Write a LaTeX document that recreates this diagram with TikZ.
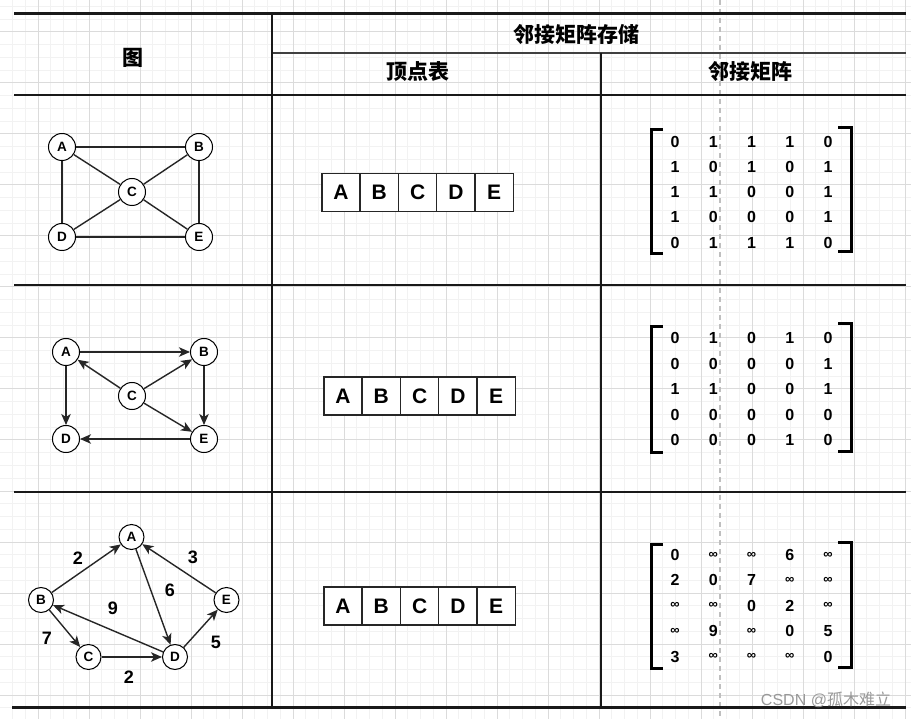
\documentclass[tikz,border=0pt]{standalone}
\usepackage{fontspec}
\setmainfont{Liberation Sans}
\newfontfamily\cjk{Noto Sans CJK SC}
\usetikzlibrary{
    positioning,
    arrows.meta
}
\newcommand{\inftxt}{{\fontsize{13}{13}\selectfont ∞}}

\begin{document}

\begin{tikzpicture}
[
    x=1pt,
    y=-1pt,
    minorgrid/.style={
        draw=black!5,
        line width=1pt
    },
    majorgrid/.style={
        draw=black!14,
        line width=1pt
    },
    rule/.style={
        draw=black!90,
        line width=1.5pt
    },
    header/.style={
        font=\cjk\bfseries\fontsize{21}{21}\selectfont
    },
    vertex/.style={
        circle,
        draw=black,
        line width=1pt,
        fill=white,
        inner sep=0pt,
        minimum size=27pt,
        font=\bfseries\fontsize{13.5}{13.5}\selectfont
    },
    edge/.style={
        draw=black!85,
        line width=1.4pt
    },
    arc/.style={
        edge,
        -{Stealth[length=11pt,width=9.5pt,inset=3pt]}
    },
    weight/.style={
        font=\bfseries\fontsize{18}{18}\selectfont
    },
    cell/.style={
        rectangle,
        draw=black!85,
        line width=1.4pt,
        fill=white,
        outer sep=0pt,
        minimum width=38.3pt,
        minimum height=38.3pt,
        font=\bfseries\fontsize{21}{21}\selectfont
    },
    entry/.style={
        inner sep=0pt,
        font=\bfseries\fontsize{16}{16}\selectfont
    },
    bracket/.style={
        draw=black,
        line width=3pt
    }
]

\useasboundingbox (0,0) rectangle (911,719);
\fill[white] (0,0) rectangle (911,719);


% =====================
% BACKGROUND GRID
% =====================

\foreach \i in {0,...,72}
    \draw[minorgrid] ({38+12.75*(\i-3)},0) -- ++(0,719);
\foreach \j in {0,...,58}
    \draw[minorgrid] (0,{32+12.75*(\j-2)}) -- ++(911,0);
\foreach \i in {0,...,18}
    \draw[majorgrid] ({38+51*(\i-1)},0) -- ++(0,719);
\foreach \j in {0,...,14}
    \draw[majorgrid] (0,{32+51*\j}) -- ++(911,0);

\draw[black!25, line width=1.5pt, dash pattern=on 5pt off 4pt]
(720,0) -- (720,719);


% =====================
% TABLE
% =====================

\draw[rule, line width=3pt] (14,14) -- (906,14);
\draw[rule, line width=2pt, draw=black!75] (272,53) -- (906,53);
\draw[rule, line width=2pt] (14,95) -- (906,95);
\draw[rule] (14,285) -- (906,285);
\draw[rule] (14,492) -- (906,492);
\draw[rule, line width=3pt] (12,707) -- (906,707);
\draw[rule] (272,14) -- (272,707);
\draw[rule] (601,53) -- (601,707);

\node[header] (graph) at (133,58) {图};
\node[header] (storage) at (576,35) {邻接矩阵存储};
\node[header] (vertlist) at (418,72) {顶点表};
\node[header] (adjmat) at (750,72) {邻接矩阵};


% =====================
% GRAPH 1 (UNDIRECTED)
% =====================

\node[vertex] (ua) at (62,147) {A};
\node[vertex] (ub) at (199,147) {B};
\node[vertex] (uc) at (132,192) {C};
\node[vertex] (ud) at (62,237) {D};
\node[vertex] (ue) at (199,237) {E};

\draw[edge] (ua) -- (ub);
\draw[edge] (ua) -- (ud);
\draw[edge] (ua) -- (uc);
\draw[edge] (ub) -- (uc);
\draw[edge] (ub) -- (ue);
\draw[edge] (uc) -- (ud);
\draw[edge] (uc) -- (ue);
\draw[edge] (ud) -- (ue);


% =====================
% GRAPH 2 (DIRECTED)
% =====================

\node[vertex] (da) at (66,352) {A};
\node[vertex] (db) at (204,352) {B};
\node[vertex] (dc) at (132,396) {C};
\node[vertex] (dd) at (66,439) {D};
\node[vertex] (de) at (204,439) {E};

\draw[arc] (da) -- (db);
\draw[arc] (da) -- (dd);
\draw[arc] (dc) -- (da);
\draw[arc] (dc) -- (db);
\draw[arc] (dc) -- (de);
\draw[arc] (db) -- (de);
\draw[arc] (de) -- (dd);


% =====================
% GRAPH 3 (WEIGHTED)
% =====================

\node[vertex, minimum size=25pt] (wa) at (131.5,537) {A};
\node[vertex, minimum size=25pt] (wb) at (41,600) {B};
\node[vertex, minimum size=25pt] (wc) at (88.5,657) {C};
\node[vertex, minimum size=25pt] (wd) at (175,657) {D};
\node[vertex, minimum size=25pt] (we) at (226.5,600) {E};

\draw[arc] (wb) -- (wa);
\draw[arc] (wa) -- (wd);
\draw[arc] (we) -- (wa);
\draw[arc] (wd) -- (wb);
\draw[arc] (wb) -- (wc);
\draw[arc] (wc) -- (wd);
\draw[arc] (wd) -- (we);

\node[weight] (wba) at (78,558) {2};
\node[weight] (wea) at (193,557) {3};
\node[weight] (wad) at (170,590) {6};
\node[weight] (wdb) at (113,608) {9};
\node[weight] (wbc) at (47,638) {7};
\node[weight] (wde) at (216,642) {5};
\node[weight] (wcd) at (129,677) {2};


% =====================
% VERTEX LISTS
% =====================

\node[cell] (la) at (341,192.5) {A};
\node[cell, right=0pt of la] (lb) {B};
\node[cell, right=0pt of lb] (lc) {C};
\node[cell, right=0pt of lc] (ld) {D};
\node[cell, right=0pt of ld] (le) {E};

\node[cell] (ma) at (343,396) {A};
\node[cell, right=0pt of ma] (mb) {B};
\node[cell, right=0pt of mb] (mc) {C};
\node[cell, right=0pt of mc] (md) {D};
\node[cell, right=0pt of md] (me) {E};

\node[cell] (na) at (343,606) {A};
\node[cell, right=0pt of na] (nb) {B};
\node[cell, right=0pt of nb] (nc) {C};
\node[cell, right=0pt of nc] (nd) {D};
\node[cell, right=0pt of nd] (ne) {E};


% =====================
% MATRICES
% =====================

\foreach \row [count=\r] in {{0,1,1,1,0},{1,0,1,0,1},{1,1,0,0,1},{1,0,0,0,1},{0,1,1,1,0}}
    \foreach \val [count=\c] in \row
        \node[entry] (ua-\r-\c) at ({675+38.25*(\c-1)},{141.7+25.25*(\r-1)}) {\val};

\foreach \row [count=\r] in {{0,1,0,1,0},{0,0,0,0,1},{1,1,0,0,1},{0,0,0,0,0},{0,0,0,1,0}}
    \foreach \val [count=\c] in \row
        \node[entry] (da-\r-\c) at ({675+38.25*(\c-1)},{338.3+25.4*(\r-1)}) {\val};

\foreach \row [count=\r] in {{0,\inftxt,\inftxt,6,\inftxt},{2,0,7,\inftxt,\inftxt},{\inftxt,\inftxt,0,2,\inftxt},{\inftxt,9,\inftxt,0,5},{3,\inftxt,\inftxt,\inftxt,0}}
    \foreach \val [count=\c] in \row
        \node[entry] (wa-\r-\c) at ({675+38.25*(\c-1)},{555+25.4*(\r-1)}) {\val};

\draw[bracket] (663,130) -- (651,130) -- (651,254) -- (663,254);
\draw[bracket] (838,128) -- (851,128) -- (851,252) -- (838,252);

\draw[bracket] (663,327) -- (651,327) -- (651,452) -- (663,452);
\draw[bracket] (838,324) -- (851,324) -- (851,451) -- (838,451);

\draw[bracket] (663,544) -- (651,544) -- (651,668) -- (663,668);
\draw[bracket] (838,542) -- (851,542) -- (851,667) -- (838,667);


% =====================
% WATERMARK
% =====================

\node[
text=black!40,
font=\fontsize{16}{16}\selectfont
]
(mark) at (826,700)
{CSDN @{\cjk 孤木难立}};

\end{tikzpicture}

\end{document}
